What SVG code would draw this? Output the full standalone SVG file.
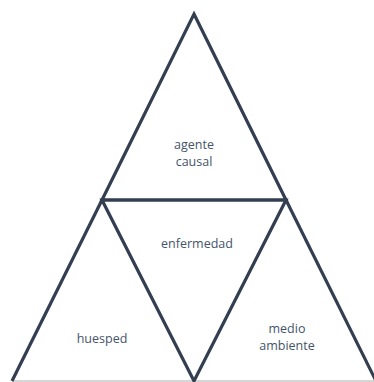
<svg xmlns="http://www.w3.org/2000/svg" width="374" height="382" viewBox="0 0 374 382">
<style>
.edge{fill:none;stroke:#333F50;stroke-width:3.2;stroke-linejoin:miter}
.lbl{font-family:"Open Sans","Liberation Sans",sans-serif;font-size:12.5px;fill:#44546A;text-anchor:middle}
</style>
<rect width="374" height="382" fill="#ffffff"/>
<g id="connectors">
<line x1="12" y1="381" x2="374" y2="381" stroke="#C8C8C8" stroke-width="1.5"/>
</g>
<g id="agente-causal">
<polygon class="edge" points="194,14 286,200 102,200"/>
<text class="lbl" x="194" y="149">agente</text>
<text class="lbl" x="194" y="166">causal</text>
</g>
<g id="enfermedad">
<polygon class="edge" points="102,200 286,200 194,381"/>
<text class="lbl" x="197" y="248">enfermedad</text>
</g>
<g id="huesped">
<polyline class="edge" points="102,200 12,381"/>
<text class="lbl" x="102" y="343">huesped</text>
</g>
<g id="medio-ambiente">
<polyline class="edge" points="286,200 376,381"/>
<text class="lbl" x="287" y="333">medio</text>
<text class="lbl" x="287" y="350">ambiente</text>
</g>
</svg>
